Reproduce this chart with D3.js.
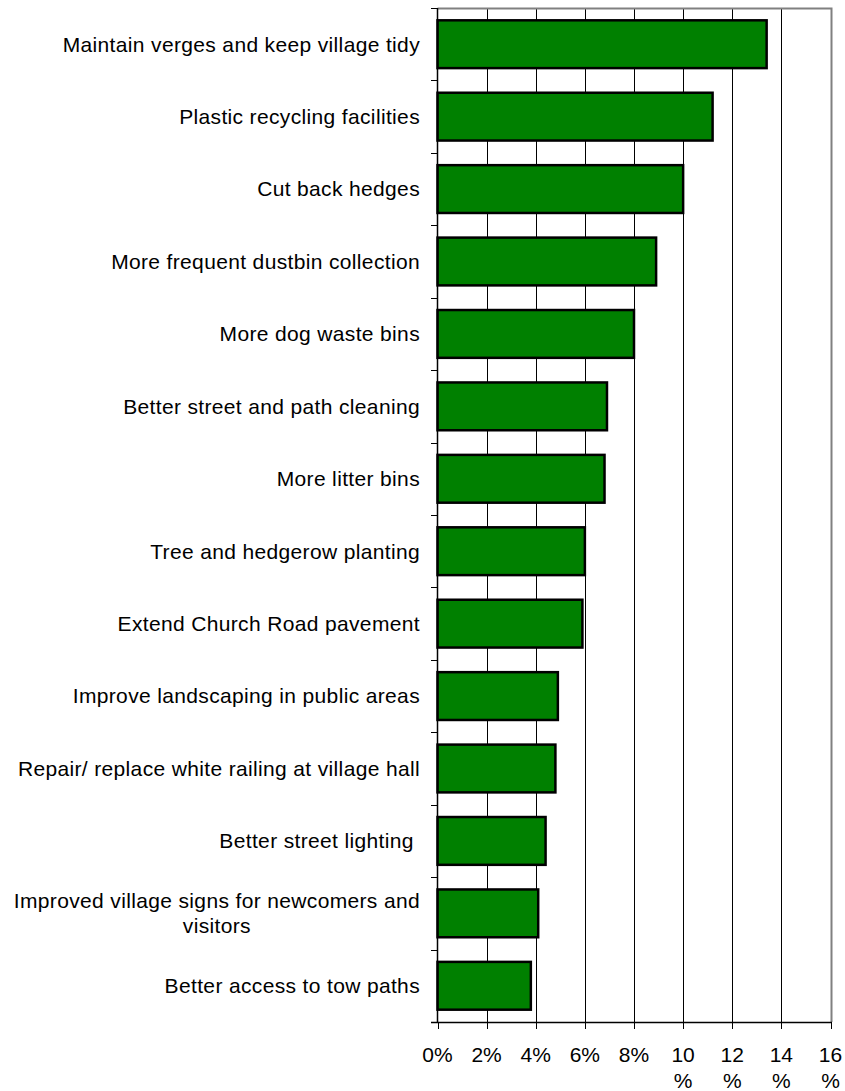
<!DOCTYPE html>
<html>
<head>
<meta charset="utf-8">
<script src="https://cdn.jsdelivr.net/npm/d3@7"></script>
<style>
  html, body { margin: 0; padding: 0; background: #fff; }
  svg text { font-family: Arial, "Liberation Sans", Helvetica, sans-serif; fill: #000; }
</style>
</head>
<body>
<svg id="chart" width="845" height="1091"></svg>
<script>
const categories = [
  "Maintain verges and keep village tidy",
  "Plastic recycling facilities",
  "Cut back hedges",
  "More frequent dustbin collection",
  "More dog waste bins",
  "Better street and path cleaning",
  "More litter bins",
  "Tree and hedgerow planting",
  "Extend Church Road pavement",
  "Improve landscaping in public areas",
  "Repair/ replace white railing at village hall",
  "Better street lighting ",
  "Improved village signs for newcomers and visitors",
  "Better access to tow paths"
];
const categoryLines = [
  ["Maintain verges and keep village tidy"],
  ["Plastic recycling facilities"],
  ["Cut back hedges"],
  ["More frequent dustbin collection"],
  ["More dog waste bins"],
  ["Better street and path cleaning"],
  ["More litter bins"],
  ["Tree and hedgerow planting"],
  ["Extend Church Road pavement"],
  ["Improve landscaping in public areas"],
  ["Repair/ replace white railing at village hall"],
  ["Better street lighting\u00a0"],
  ["Improved village signs for newcomers and", "visitors"],
  ["Better access to tow paths"]
];
const values = [13.4, 11.2, 10.0, 8.9, 8.0, 6.9, 6.8, 6.0, 5.9, 4.9, 4.8, 4.4, 4.1, 3.8];
const tickValues = [0, 2, 4, 6, 8, 10, 12, 14, 16];
const tickLabels = [["0%"], ["2%"], ["4%"], ["6%"], ["8%"], ["10", "%"], ["12", "%"], ["14", "%"], ["16", "%"]];

(function () {
const svg = d3.select("#chart");
const pLeft = 437.5, pRight = 830.5, pTop = 8, pBottom = 1022;

const x = d3.scaleLinear().domain([0, 16]).range([pLeft, pRight]);
const y = d3.scaleBand().domain(categories).range([pTop, pBottom]).paddingInner(0.34).paddingOuter(0.17);
const yStep = d3.scaleBand().domain(categories).range([pTop, pBottom]).padding(0);

// gridlines
svg.append("g").selectAll("line").data(tickValues.slice(1, -1)).join("line")
  .attr("x1", d => Math.round(x(d)) + 0.5).attr("x2", d => Math.round(x(d)) + 0.5)
  .attr("y1", pTop).attr("y2", pBottom)
  .attr("stroke", "#000").attr("stroke-width", 1);

// plot border top & right (gray)
svg.append("path")
  .attr("d", `M${pLeft},${pTop + 0.5}H${Math.round(pRight) + 0.5}V${pBottom}`)
  .attr("fill", "none").attr("stroke", "#808080").attr("stroke-width", 2);

// bars
svg.append("g").selectAll("rect").data(values).join("rect")
  .attr("x", x(0))
  .attr("y", (d, i) => y(categories[i]))
  .attr("width", d => x(d) - x(0))
  .attr("height", y.bandwidth())
  .attr("fill", "#008000")
  .attr("stroke", "#000").attr("stroke-width", 2.5);

// left axis line and ticks at band boundaries
const bounds = categories.map(c => yStep(c)).concat([pBottom]);
svg.append("line").attr("x1", pLeft).attr("x2", pLeft).attr("y1", pTop).attr("y2", pBottom)
  .attr("stroke", "#000").attr("stroke-width", 1.5);
svg.append("g").selectAll("line").data(bounds).join("line")
  .attr("x1", 431).attr("x2", pLeft)
  .attr("y1", d => Math.round(d) + 0.5).attr("y2", d => Math.round(d) + 0.5)
  .attr("stroke", "#000").attr("stroke-width", 1);

// bottom axis
svg.append("line").attr("x1", 431).attr("x2", Math.round(pRight) + 1).attr("y1", pBottom + 0.5).attr("y2", pBottom + 0.5)
  .attr("stroke", "#000").attr("stroke-width", 1.5);
svg.append("g").selectAll("line").data(tickValues).join("line")
  .attr("x1", d => Math.round(x(d)) + 0.5).attr("x2", d => Math.round(x(d)) + 0.5)
  .attr("y1", pBottom).attr("y2", pBottom + 7)
  .attr("stroke", "#000").attr("stroke-width", 1);

// tick labels
const tl = svg.append("g").selectAll("text").data(tickValues).join("text")
  .attr("x", d => x(d))
  .attr("y", 1062)
  .attr("text-anchor", "middle")
  .style("font-size", "21px");
tl.each(function(d, i) {
  const t = d3.select(this);
  tickLabels[i].forEach((line, j) => {
    t.append("tspan").attr("x", x(d)).attr("dy", j === 0 ? 0 : 26).text(line);
  });
});

// category labels
const labelRight = 420;
categories.forEach((c, i) => {
  const lines = categoryLines[i];
  const cy = y(c) + y.bandwidth() / 2;
  const lh = 25;
  const first = svg.append("text")
    .attr("x", labelRight)
    .attr("y", cy - (lines.length - 1) * lh / 2)
    .attr("dy", "0.35em")
    .attr("text-anchor", "end")
    .style("font-size", "21px")
    .style("letter-spacing", "0.35px")
    .text(lines[0]);
  if (lines.length > 1) {
    const w = first.node().getComputedTextLength();
    const center = labelRight - w / 2;
    for (let j = 1; j < lines.length; j++) {
      svg.append("text")
        .attr("x", center)
        .attr("y", cy - (lines.length - 1) * lh / 2 + j * lh)
        .attr("dy", "0.35em")
        .attr("text-anchor", "middle")
        .style("font-size", "21px")
        .style("letter-spacing", "0.35px")
        .text(lines[j]);
    }
  }
});
})();
</script>
</body>
</html>
